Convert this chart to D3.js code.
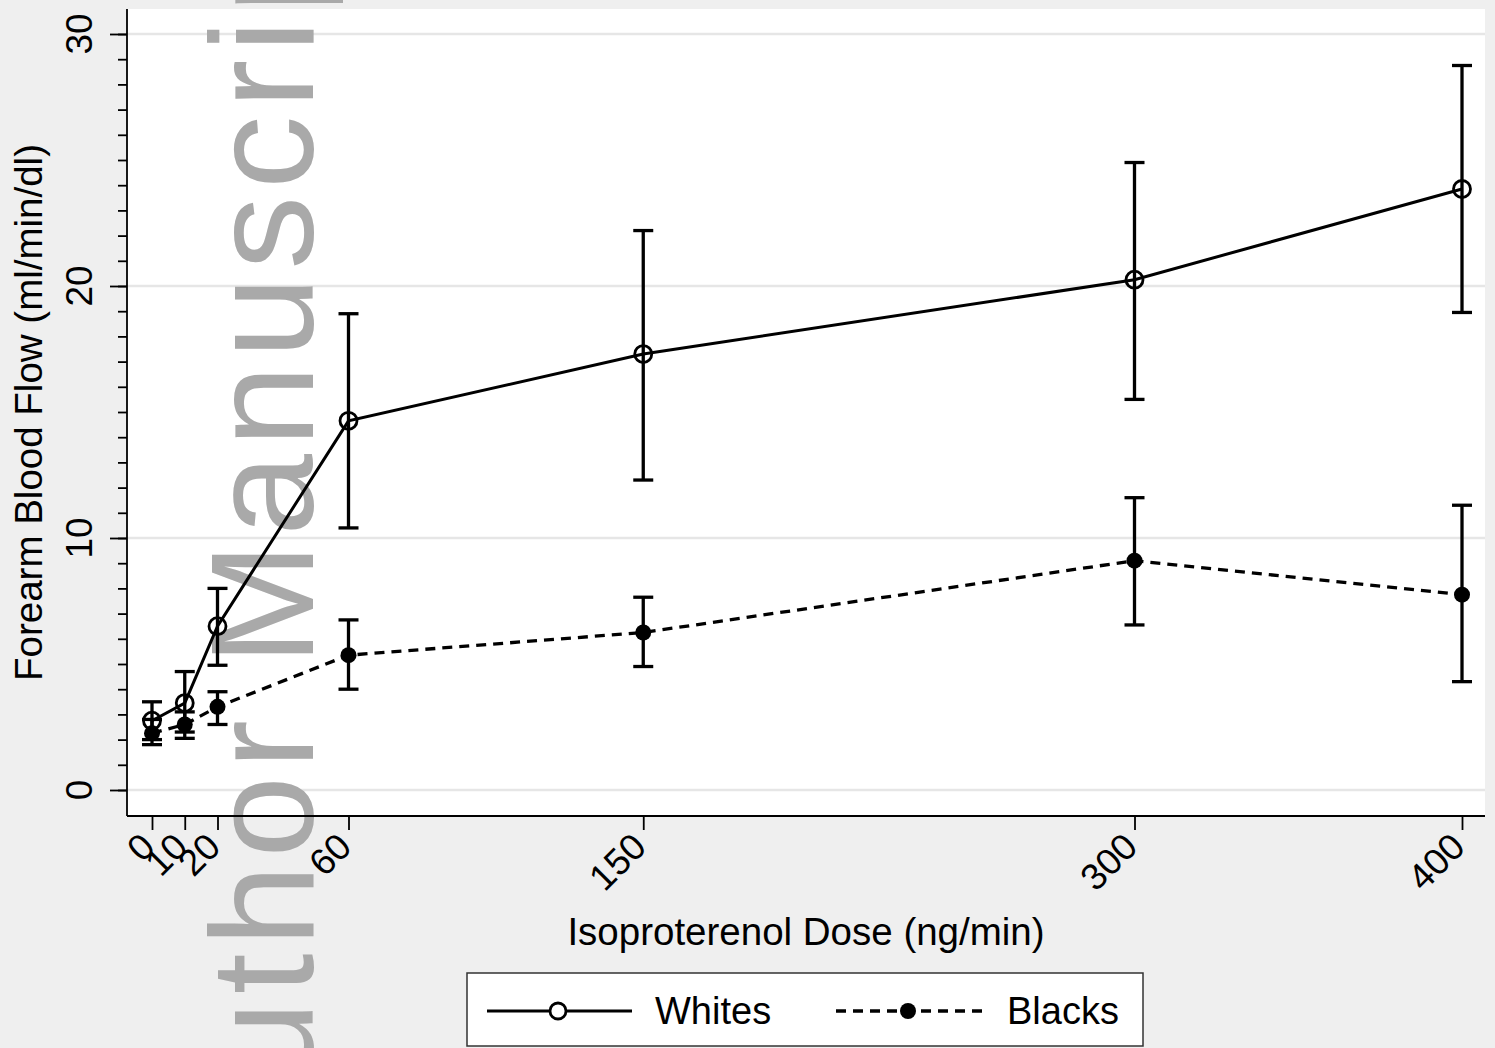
<!DOCTYPE html>
<html>
<head>
<meta charset="utf-8">
<script src="https://cdn.jsdelivr.net/npm/d3@7"></script>
<style>
  body { margin: 0; background: #efefef; }
  svg { display: block; font-family: "Liberation Sans", Arial, sans-serif; }
</style>
</head>
<body>
<div id="chart"></div>
<script>
var doses = [0, 10, 20, 60, 150, 300, 400]
var whitesMean = [2.75, 3.45, 6.5, 14.65, 17.3, 20.25, 23.85]
var whitesLo = [2.0, 2.3, 4.95, 10.4, 12.3, 15.5, 18.95]
var whitesHi = [3.5, 4.7, 8.0, 18.9, 22.2, 24.9, 28.75]
var blacksMean = [2.25, 2.6, 3.3, 5.35, 6.25, 9.1, 7.75]
var blacksLo = [1.8, 2.05, 2.6, 4.0, 4.9, 6.55, 4.3]
var blacksHi = [2.8, 3.1, 3.9, 6.75, 7.65, 11.6, 11.3]
var yMajor = [0, 10, 20, 30]
var yMinor = d3.range(0, 31)
var seriesNames = ['Whites', 'Blacks']

var w = 1495
var h = 1048
var plot = { left: 127, right: 1485, top: 9, bottom: 816 }

var x = d3.scaleLinear().domain([0, 400]).range([152, 1462])
var y = d3.scaleLinear().domain([0, 30]).range([790, 34])

var svg = d3.select('#chart')
  .append('svg')
  .attr('width', w)
  .attr('height', h)

svg.append('rect')
  .attr('width', w)
  .attr('height', h)
  .attr('fill', '#efefef')

svg.append('rect')
  .attr('x', plot.left)
  .attr('y', plot.top)
  .attr('width', plot.right - plot.left)
  .attr('height', plot.bottom - plot.top)
  .attr('fill', '#fff')

svg.selectAll('.grid')
  .data(yMajor)
  .enter()
  .append('line')
  .attr('class', 'grid')
  .attr('x1', plot.left)
  .attr('x2', plot.right)
  .attr('y1', d => y(d))
  .attr('y2', d => y(d))
  .attr('stroke', '#e6e6e6')
  .attr('stroke-width', 2.5)

// watermark
var wm = svg.append('text')
  .text('Author Manuscript')
  .attr('font-size', 147)
  .attr('letter-spacing', 7)
  .attr('fill', '#a9a9a9')
var cPos = wm.node().getStartPositionOfChar(12).x
wm.attr('transform', 'translate(313,' + (189 + cPos) + ') rotate(-90)')

// axes
var yMinorAxis = d3.axisLeft(y).tickValues(yMinor).tickSize(9).tickFormat('')
var yMajorAxis = d3.axisLeft(y).tickValues(yMajor).tickSize(17).tickFormat('')
var xAxis = d3.axisBottom(x).tickValues(doses).tickSize(14).tickFormat('')

svg.append('g')
  .attr('transform', `translate(${plot.left},0)`)
  .call(yMinorAxis)
svg.append('g')
  .attr('transform', `translate(${plot.left},0)`)
  .call(yMajorAxis)
svg.append('g')
  .attr('transform', `translate(0,${plot.bottom})`)
  .call(xAxis)

svg.selectAll('.domain').remove()
svg.selectAll('.tick line')
  .attr('stroke', '#000')
  .attr('stroke-width', 1.8)

svg.append('line')
  .attr('x1', plot.left).attr('x2', plot.left)
  .attr('y1', plot.top).attr('y2', plot.bottom)
  .attr('stroke', '#000').attr('stroke-width', 1.8)
svg.append('line')
  .attr('x1', plot.left).attr('x2', plot.right)
  .attr('y1', plot.bottom).attr('y2', plot.bottom)
  .attr('stroke', '#000').attr('stroke-width', 1.8)

svg.selectAll('.ylab')
  .data(yMajor)
  .enter()
  .append('text')
  .attr('class', 'ylab')
  .attr('transform', d => `translate(92,${y(d)}) rotate(-90)`)
  .attr('text-anchor', 'middle')
  .attr('font-size', 37)
  .text(d => d)

svg.selectAll('.xlab')
  .data(doses)
  .enter()
  .append('text')
  .attr('class', 'xlab')
  .attr('transform', d => `translate(${x(d) + 5},849) rotate(-45)`)
  .attr('text-anchor', 'end')
  .attr('font-size', 37)
  .text(d => d)

svg.append('text')
  .attr('x', (plot.left + plot.right) / 2)
  .attr('y', 945)
  .attr('text-anchor', 'middle')
  .attr('font-size', 38.5)
  .text('Isoproterenol Dose (ng/min)')

svg.append('text')
  .attr('transform', `translate(42,${(plot.top + plot.bottom) / 2}) rotate(-90)`)
  .attr('text-anchor', 'middle')
  .attr('font-size', 38.5)
  .text('Forearm Blood Flow (ml/min/dl)')

// series
function rows(mean, lo, hi) {
  return doses.map((d, i) => ({ dose: d, mean: mean[i], lo: lo[i], hi: hi[i] }))
}
var whites = rows(whitesMean, whitesLo, whitesHi)
var blacks = rows(blacksMean, blacksLo, blacksHi)

var line = d3.line()
  .x(d => x(d.dose))
  .y(d => y(d.mean))

function errorBars(data, cls) {
  var g = svg.append('g').attr('class', cls)
  g.selectAll('.bar')
    .data(data)
    .enter()
    .append('line')
    .attr('x1', d => x(d.dose)).attr('x2', d => x(d.dose))
    .attr('y1', d => y(d.lo)).attr('y2', d => y(d.hi))
    .attr('stroke', '#000').attr('stroke-width', 3.3)
  g.selectAll('.caplo')
    .data(data)
    .enter()
    .append('line')
    .attr('x1', d => x(d.dose) - 10).attr('x2', d => x(d.dose) + 10)
    .attr('y1', d => y(d.lo)).attr('y2', d => y(d.lo))
    .attr('stroke', '#000').attr('stroke-width', 3.3)
  g.selectAll('.caphi')
    .data(data)
    .enter()
    .append('line')
    .attr('x1', d => x(d.dose) - 10).attr('x2', d => x(d.dose) + 10)
    .attr('y1', d => y(d.hi)).attr('y2', d => y(d.hi))
    .attr('stroke', '#000').attr('stroke-width', 3.3)
}

errorBars(blacks, 'err-blacks')
errorBars(whites, 'err-whites')

svg.append('path')
  .datum(blacks)
  .attr('d', line)
  .attr('fill', 'none')
  .attr('stroke', '#000')
  .attr('stroke-width', 3.3)
  .attr('stroke-dasharray', '10,7')

svg.append('path')
  .datum(whites)
  .attr('d', line)
  .attr('fill', 'none')
  .attr('stroke', '#000')
  .attr('stroke-width', 3)

svg.selectAll('.dot-b')
  .data(blacks)
  .enter()
  .append('circle')
  .attr('class', 'dot-b')
  .attr('cx', d => x(d.dose))
  .attr('cy', d => y(d.mean))
  .attr('r', 8)
  .attr('fill', '#000')

svg.selectAll('.dot-w')
  .data(whites)
  .enter()
  .append('circle')
  .attr('class', 'dot-w')
  .attr('cx', d => x(d.dose))
  .attr('cy', d => y(d.mean))
  .attr('r', 8.5)
  .attr('fill', 'none')
  .attr('stroke', '#000')
  .attr('stroke-width', 2.8)

// legend
var legend = svg.append('g')
legend.append('rect')
  .attr('x', 467).attr('y', 973)
  .attr('width', 676).attr('height', 73)
  .attr('fill', '#fff')
  .attr('stroke', '#333')
  .attr('stroke-width', 1.5)

legend.append('line')
  .attr('x1', 487).attr('x2', 632)
  .attr('y1', 1011).attr('y2', 1011)
  .attr('stroke', '#000').attr('stroke-width', 3)
legend.append('circle')
  .attr('cx', 558).attr('cy', 1011).attr('r', 8)
  .attr('fill', '#fff').attr('stroke', '#000').attr('stroke-width', 2.8)

legend.append('line')
  .attr('x1', 836).attr('x2', 982)
  .attr('y1', 1011).attr('y2', 1011)
  .attr('stroke', '#000').attr('stroke-width', 3.3)
  .attr('stroke-dasharray', '10,7')
legend.append('circle')
  .attr('cx', 908).attr('cy', 1011).attr('r', 8)
  .attr('fill', '#000')

legend.selectAll('.leg-text')
  .data(seriesNames)
  .enter()
  .append('text')
  .attr('class', 'leg-text')
  .attr('x', (d, i) => i === 0 ? 655 : 1007)
  .attr('y', 1024)
  .attr('font-size', 38)
  .text(d => d)
</script>
</body>
</html>
